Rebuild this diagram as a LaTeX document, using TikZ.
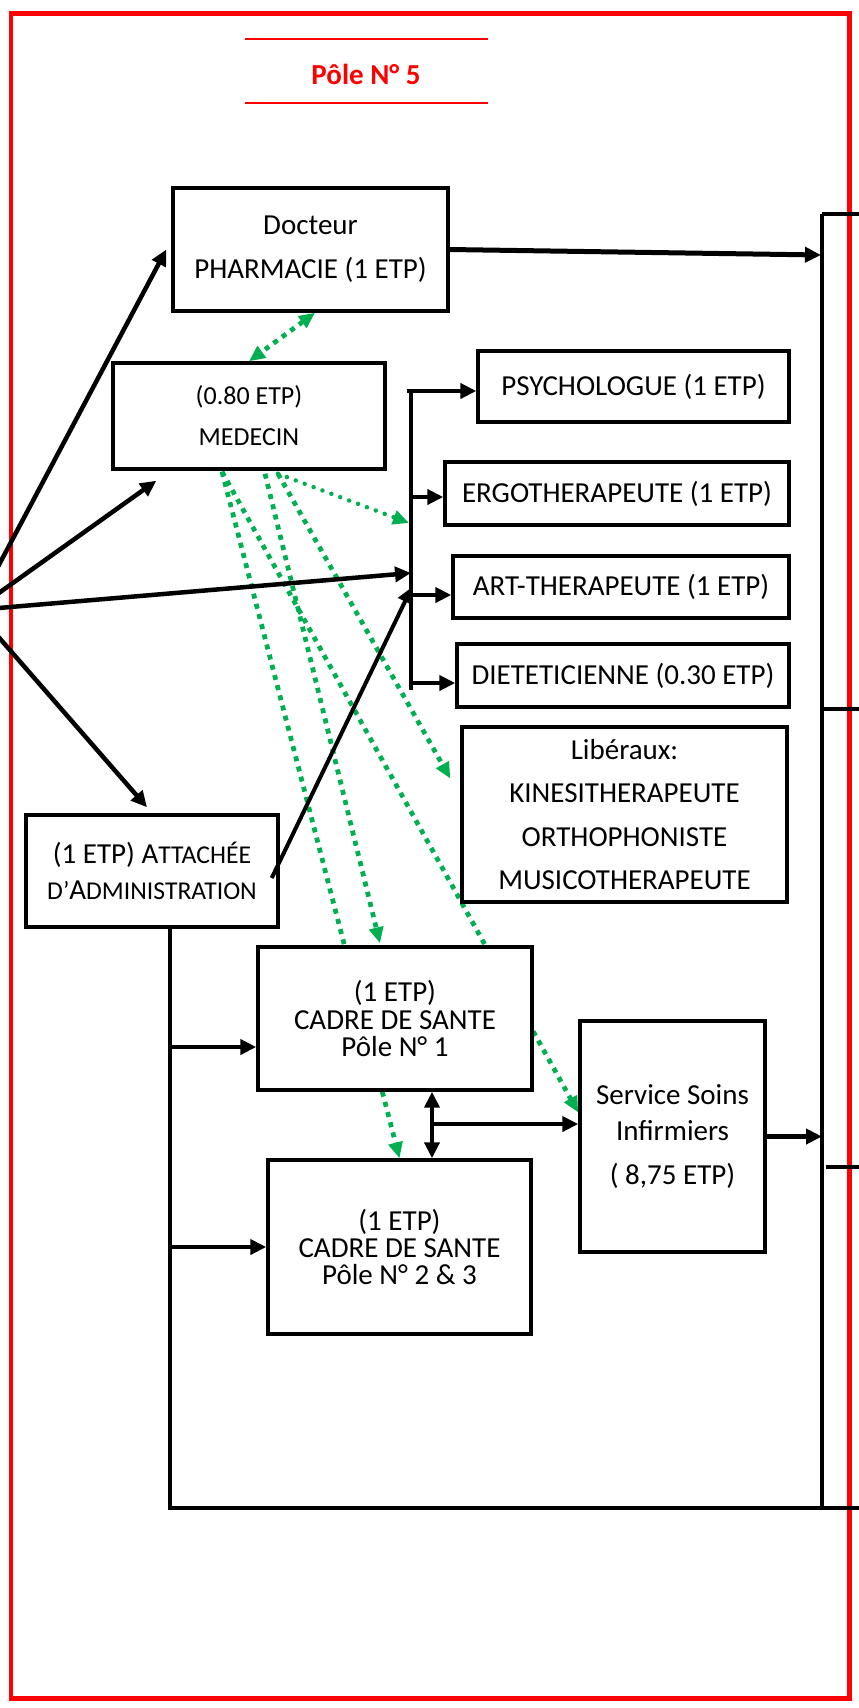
\documentclass[tikz,border=0pt]{standalone}
\usepackage{fontspec}
\setmainfont{Carlito}
\usetikzlibrary{arrows.meta,calc,backgrounds}

\definecolor{vertpoint}{RGB}{0,176,80}
\newcommand{\corps}[2]{\fontsize{#1}{#2}\selectfont}
\newcommand{\petitcap}[1]{{\fontsize{14.6}{14.6}\selectfont #1}}

\tikzset{
  boite/.style={draw, line width=0.07cm, fill=white, align=center, font={\corps{16.5}{20}}},
  fleche/.style={line width=0.09cm, -{Triangle[length=0.32cm,width=0.3cm]}},
  pointille/.style={draw=vertpoint, line width=0.095cm, dash pattern=on 0.1cm off 0.11cm, -{Triangle[length=0.32cm,width=0.28cm]}},
  pointrond/.style={draw=vertpoint, line width=0.09cm, line cap=round, dash pattern=on 0pt off 0.19cm, -{Triangle[length=0.32cm,width=0.28cm]}},
}

\begin{document}
\begin{tikzpicture}[x=0.02cm, y=-0.02cm]
\useasboundingbox (0,0) rectangle (859,1708);
\clip (0,0) rectangle (859,1708);

% cadre rouge + titre
\draw[red, line width=0.1cm] (11,13) rectangle (849,1698);
\draw[red, line width=0.045cm] (245,39) -- (488,39);
\draw[red, line width=0.045cm] (245,103) -- (488,103);
\node[text=red, font={\bfseries\corps{16.5}{20}}] (titre) at (366,74) {Pôle N° 5};

% les boites
\node[boite, minimum width=5.5cm, minimum height=2.46cm, font={\corps{16.5}{25}}] (doc) at (310.5,249.5) {Docteur\\PHARMACIE (1 ETP)};
\node[boite, minimum width=5.44cm, minimum height=2.12cm, font={\corps{14.8}{23.3}}] (med) at (249,416) {(0.80 ETP)\\MEDECIN};
\node[boite, minimum width=6.22cm, minimum height=1.42cm] (psy) at (633.5,386.5) {PSYCHOLOGUE (1 ETP)};
\node[boite, minimum width=6.88cm, minimum height=1.26cm] (ergo) at (617,493.5) {ERGOTHERAPEUTE (1 ETP)};
\node[boite, minimum width=6.72cm, minimum height=1.24cm] (art) at (621,587) {ART-THERAPEUTE (1 ETP)};
\node[boite, minimum width=6.64cm, minimum height=1.26cm] (diet) at (623,675.5) {DIETETICIENNE (0.30 ETP)};
\node[boite, minimum width=6.5cm, minimum height=3.5cm, font={\corps{16.5}{24.8}}] (lib) at (624.5,814.5) {Libéraux:\\KINESITHERAPEUTE\\ORTHOPHONISTE\\MUSICOTHERAPEUTE};
\node[boite, minimum width=5.04cm, minimum height=2.24cm, font={\corps{16.5}{20.5}}] (att) at (152,871) {(1 ETP) A\petitcap{TTACHÉE}\\\petitcap{D’}A\petitcap{DMINISTRATION}};
\node[boite, minimum width=5.48cm, minimum height=2.86cm, font={\corps{16.5}{15.6}}] (p1) at (395,1018.5) {(1 ETP)\\CADRE DE SANTE\\Pôle N° 1};
\node[boite, minimum width=3.7cm, minimum height=4.62cm, font={\corps{16.5}{20.5}}] (soins) at (672.5,1136.5) {Service Soins\\Infirmiers\\[4.5pt]( 8,75 ETP)};
\node[boite, minimum width=5.26cm, minimum height=3.48cm, font={\corps{16.5}{15.4}}] (p23) at (399.5,1247) {(1 ETP)\\CADRE DE SANTE\\Pôle N° 2 \& 3};

% points libres
\coordinate (fan) at (-25,610);
\coordinate (bushaut) at (411,389);
\coordinate (busbas) at (411,690);
\coordinate (busfan) at (411,573);
\coordinate (busatt) at (412,587);
\coordinate (busvert) at (409,523);
\coordinate (rvhaut) at (822,214);
\coordinate (rvdoc) at (821,255);
\coordinate (coinbas) at (170,1508);
\coordinate (bordbas) at (870,1508);
\coordinate (attp1) at (170,1047);
\coordinate (attp23) at (170,1247);
\coordinate (jonc) at (432,1124);

% liens medecin (en pointilles verts)
\begin{scope}[on background layer]
\draw[pointille, {Triangle[length=0.32cm,width=0.28cm]}-{Triangle[length=0.32cm,width=0.28cm]}] ($(doc.south)+(4.5,0)$) -- (med.north);
\draw[pointrond] ($(med.south)+(29,3)$) -- (busvert);
\draw[pointille] ($(med.south)+(29,3)$) -- ($(lib.west)+(-10,-36)$);
\draw[pointille] ($(med.south)+(16,3)$) -- ($(p1.north)+(-15,-2)$);
\draw[pointille] ($(med.south)+(-27,1)$) -- ($(soins.west)+(0,-24)$);
\draw[pointille] ($(med.south)+(-27,1)$) -- (p23.north);
\end{scope}

% eventail a gauche
\draw[fleche] (fan) -- ($(doc.west)+(-5,0)$);
\draw[fleche] (fan) -- ($(med.south west)+(45,10)$);
\draw[fleche] (fan) -- (busfan);
\draw[fleche] (fan) -- ($(att.north)+(-5,-6)$);

% barre des therapeutes
\draw[line width=0.08cm] (bushaut) -- (busbas);
\foreach \n/\dx/\dy in {psy/69/4.5, ergo/34/3.5, art/42/8, diet/46/7.5}
  \draw[fleche, line width=0.08cm] ($(\n.west)+(-\dx,\dy)$) -- ($(\n.west)+(0,\dy)$);
\draw[fleche, line width=0.08cm] ($(att.east)+(-8,7)$) -- (busatt);

% attachee vers les cadres
\draw[line width=0.09cm] ($(att.south)+(18,0)$) -- (coinbas) -- (bordbas);
\draw[fleche] (attp1) -- (attp1 -| p1.west);
\draw[fleche] (attp23) -- (p23.west);

% cadres et soins
\draw[fleche, {Triangle[length=0.32cm,width=0.3cm]}-{Triangle[length=0.32cm,width=0.3cm]}] (jonc |- p1.south) -- (jonc |- p23.north);
\draw[fleche] (jonc) -- (jonc -| soins.west);

% cote droit
\draw[line width=0.09cm] (rvhaut) -- (rvhaut |- coinbas);
\draw[line width=0.09cm] (rvhaut) -- (870,214);
\draw[line width=0.09cm] (822,709) -- (870,709);
\draw[line width=0.09cm] (826,1167) -- (870,1167);
\draw[fleche, line width=0.1cm] (doc.east) -- (rvdoc);
\draw[fleche] (soins.east) -- (soins.east -| rvhaut);

\end{tikzpicture}
\end{document}
